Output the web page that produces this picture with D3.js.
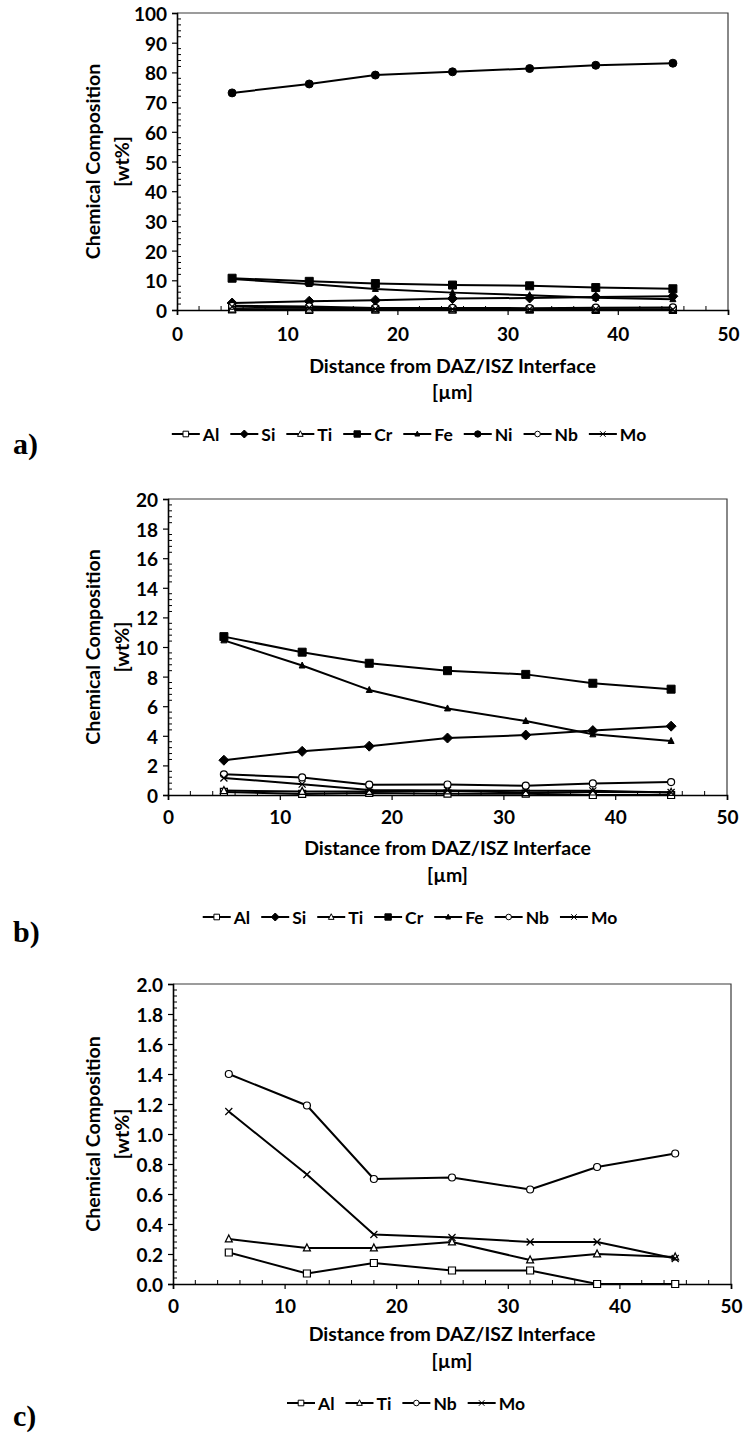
<!DOCTYPE html>
<html>
<head>
<meta charset="utf-8">
<script src="https://cdn.jsdelivr.net/npm/d3@7"></script>
<style>
  body { margin: 0; background: #fff; }
  svg { display: block; }
  text { font-family: Lato, "Open Sans", sans-serif; font-weight: 700; fill: #000; }
  .panel-tag { font-family: "Liberation Serif", "DejaVu Serif", serif; font-weight: 700; }
</style>
</head>
<body>
<svg id="fig" width="744" height="1437"></svg>
<script>
// Distance from the DAZ/ISZ interface [µm]
const distances = [5, 12, 18, 25, 32, 38, 45];

// Chemical composition [wt%] per element
const al = [0.21, 0.07, 0.14, 0.09, 0.09, 0.00, 0.00];
const si = [2.35, 2.95, 3.30, 3.85, 4.05, 4.35, 4.65];
const ti = [0.30, 0.24, 0.24, 0.28, 0.16, 0.20, 0.18];
const cr = [10.70, 9.65, 8.90, 8.40, 8.15, 7.55, 7.15];
const fe = [10.45, 8.75, 7.10, 5.85, 5.00, 4.10, 3.65];
const ni = [73.1, 76.1, 79.1, 80.2, 81.3, 82.4, 83.1];
const nb = [1.40, 1.19, 0.70, 0.71, 0.63, 0.78, 0.87];
const mo = [1.15, 0.73, 0.33, 0.31, 0.28, 0.28, 0.17];

// Axis ticks
const xTicks = [0, 10, 20, 30, 40, 50];
const yTicksA = [0, 10, 20, 30, 40, 50, 60, 70, 80, 90, 100];
const yTicksB = [0, 2, 4, 6, 8, 10, 12, 14, 16, 18, 20];
const yTicksC = [0.0, 0.2, 0.4, 0.6, 0.8, 1.0, 1.2, 1.4, 1.6, 1.8, 2.0];

// Marker shapes, centred on the point, s = nominal size in px
const markerPaths = {
  square: s => `M${-s/2},${-s/2}h${s}v${s}h${-s}Z`,
  diamond: s => `M0,${-s/2}L${s/2},0L0,${s/2}L${-s/2},0Z`,
  triangle: s => `M0,${-s*0.58}L${s/2},${s*0.42}L${-s/2},${s*0.42}Z`,
  circle: s => `M${s/2},0A${s/2},${s/2} 0 1 1 ${-s/2},0A${s/2},${s/2} 0 1 1 ${s/2},0Z`,
  cross: s => `M${-s/2},${-s/2}L${s/2},${s/2}M${s/2},${-s/2}L${-s/2},${s/2}`
};

const series = {
  Al: { values: al, shape: "square",   size: 7,   filled: false },
  Si: { values: si, shape: "diamond",  size: 10,  filled: true  },
  Ti: { values: ti, shape: "triangle", size: 7,   filled: false },
  Cr: { values: cr, shape: "square",   size: 8,   filled: true  },
  Fe: { values: fe, shape: "triangle", size: 6,   filled: true  },
  Ni: { values: ni, shape: "circle",   size: 8,   filled: true  },
  Nb: { values: nb, shape: "circle",   size: 7,   filled: false },
  Mo: { values: mo, shape: "cross",    size: 7,   filled: false }
};

const FONT_TICK = 19, FONT_TITLE = 19.5, FONT_LEGEND = 17.5;

const panels = [
  { tag: "a)", box: { left: 177, right: 728, top: 13, bottom: 310 },
    yTicks: yTicksA, yMinor: 2, yFormat: d3.format("d"),
    names: ["Al", "Si", "Ti", "Cr", "Fe", "Ni", "Nb", "Mo"],
    tickY: 333, titleY: 365, unitY: 391, legendY: 434, legendX: 409, tagY: 454 },
  { tag: "b)", box: { left: 168, right: 727, top: 499, bottom: 795 },
    yTicks: yTicksB, yMinor: 0.4, yFormat: d3.format("d"),
    names: ["Al", "Si", "Ti", "Cr", "Fe", "Nb", "Mo"],
    tickY: 816, titleY: 847, unitY: 874, legendY: 917, legendX: 410, tagY: 942 },
  { tag: "c)", box: { left: 173, right: 731, top: 984, bottom: 1284 },
    yTicks: yTicksC, yMinor: 0.04, yFormat: d3.format(".1f"),
    names: ["Al", "Ti", "Nb", "Mo"],
    tickY: 1305, titleY: 1333, unitY: 1360, legendY: 1403, legendX: 406, tagY: 1426 }
];

const svg = d3.select("#fig");

function drawMarker(g, name, x, y) {
  const s = series[name];
  g.append("path")
    .attr("transform", `translate(${x},${y})`)
    .attr("d", markerPaths[s.shape](s.size))
    .attr("fill", s.shape === "cross" ? "none" : (s.filled ? "#000" : "#fff"))
    .attr("stroke", "#000")
    .attr("stroke-width", s.filled ? 1 : 1.2);
}

function drawPanel(p) {
  const b = p.box;
  const yMax = p.yTicks[p.yTicks.length - 1];
  const x = d3.scaleLinear().domain([xTicks[0], xTicks[xTicks.length - 1]]).range([b.left, b.right]);
  const y = d3.scaleLinear().domain([0, yMax]).range([b.bottom, b.top]);
  const g = svg.append("g");

  // plot frame (top and right)
  g.append("path")
    .attr("d", `M${b.left},${b.top}H${b.right}V${b.bottom}`)
    .attr("fill", "none").attr("stroke", "#3a3a3a").attr("stroke-width", 1.2);

  // minor ticks, drawn inside the plot
  const xMinor = d3.range(0, 50 + 1e-9, 2).filter(v => v % 10 !== 0);
  g.append("g").selectAll("line").data(xMinor).join("line")
    .attr("x1", d => x(d)).attr("x2", d => x(d))
    .attr("y1", b.bottom).attr("y2", b.bottom - 4)
    .attr("stroke", "#000").attr("stroke-width", 1);
  const nMinor = Math.round(yMax / p.yMinor);
  const yMinorVals = d3.range(1, nMinor).map(i => i * p.yMinor).filter((v, i) => (i + 1) % 5 !== 0);
  g.append("g").selectAll("line").data(yMinorVals).join("line")
    .attr("x1", b.left).attr("x2", b.left + 4)
    .attr("y1", d => y(d)).attr("y2", d => y(d))
    .attr("stroke", "#000").attr("stroke-width", 1);

  // main axes
  const xAxis = d3.axisBottom(x).tickValues(xTicks).tickSize(5).tickPadding(4).tickFormat(d3.format("d"));
  const gx = g.append("g").attr("transform", `translate(0,${b.bottom})`).call(xAxis);
  gx.select(".domain").attr("stroke", "#000").attr("stroke-width", 1.6);
  gx.selectAll(".tick line").attr("stroke", "#000").attr("stroke-width", 1.2);
  gx.selectAll(".tick text").attr("font-size", FONT_TICK).attr("font-family", null).attr("y", null)
    .attr("dy", null).attr("transform", `translate(0,${p.tickY - b.bottom})`)
    .attr("dominant-baseline", "central");

  const yAxis = d3.axisLeft(y).tickValues(p.yTicks).tickSize(5).tickPadding(5).tickFormat(p.yFormat);
  const gy = g.append("g").attr("transform", `translate(${b.left},0)`).call(yAxis);
  gy.select(".domain").attr("stroke", "#000").attr("stroke-width", 1.6);
  gy.selectAll(".tick line").attr("stroke", "#000").attr("stroke-width", 1.2);
  gy.selectAll(".tick text").attr("font-size", FONT_TICK).attr("font-family", null)
    .attr("dy", null).attr("dominant-baseline", "central");

  // axis titles
  const midX = (b.left + b.right) / 2;
  const midY = (b.top + b.bottom) / 2;
  g.append("text").attr("x", midX).attr("y", p.titleY).attr("text-anchor", "middle")
    .attr("dominant-baseline", "central").attr("font-size", FONT_TITLE).text("Distance from DAZ/ISZ Interface");
  g.append("text").attr("x", midX).attr("y", p.unitY).attr("text-anchor", "middle")
    .attr("dominant-baseline", "central").attr("font-size", FONT_TITLE).text("[µm]");
  g.append("text").attr("transform", `translate(92,${midY}) rotate(-90)`).attr("text-anchor", "middle")
    .attr("dominant-baseline", "central").attr("font-size", FONT_TITLE).text("Chemical Composition");
  g.append("text").attr("transform", `translate(121,${midY}) rotate(-90)`).attr("text-anchor", "middle")
    .attr("dominant-baseline", "central").attr("font-size", FONT_TITLE).text("[wt%]");

  // data lines and markers, in series order
  const line = d3.line().x((d, i) => x(distances[i])).y(d => y(d));
  p.names.forEach(name => {
    const vals = series[name].values;
    g.append("path").attr("d", line(vals)).attr("fill", "none")
      .attr("stroke", "#000").attr("stroke-width", 2).attr("stroke-linejoin", "round");
    const mg = g.append("g");
    vals.forEach((v, i) => drawMarker(mg, name, x(distances[i]), y(v)));
  });

  // legend, laid out from the entry widths and centred on legendX
  const lg = g.append("g");
  const entries = [];
  let cursor = 0;
  p.names.forEach(name => {
    const eg = lg.append("g");
    eg.append("line").attr("x1", 0).attr("x2", 28).attr("y1", 0).attr("y2", 0)
      .attr("stroke", "#000").attr("stroke-width", 2);
    const s = series[name];
    eg.append("path").attr("transform", "translate(14,0)")
      .attr("d", markerPaths[s.shape](s.size * 0.8))
      .attr("fill", s.shape === "cross" ? "none" : (s.filled ? "#000" : "#fff"))
      .attr("stroke", "#000").attr("stroke-width", 1);
    const t = eg.append("text").attr("x", 31).attr("y", 0).attr("dominant-baseline", "central")
      .attr("font-size", FONT_LEGEND).text(name);
    const w = 31 + t.node().getComputedTextLength();
    entries.push({ eg, offset: cursor });
    cursor += w + 11;
  });
  const total = cursor - 11;
  entries.forEach(e => e.eg.attr("transform", `translate(${p.legendX - total / 2 + e.offset},${p.legendY})`));

  // panel tag
  svg.append("text").attr("class", "panel-tag").attr("x", 13).attr("y", p.tagY)
    .attr("font-size", 30).text(p.tag);
}

panels.forEach(drawPanel);
</script>
</body>
</html>
